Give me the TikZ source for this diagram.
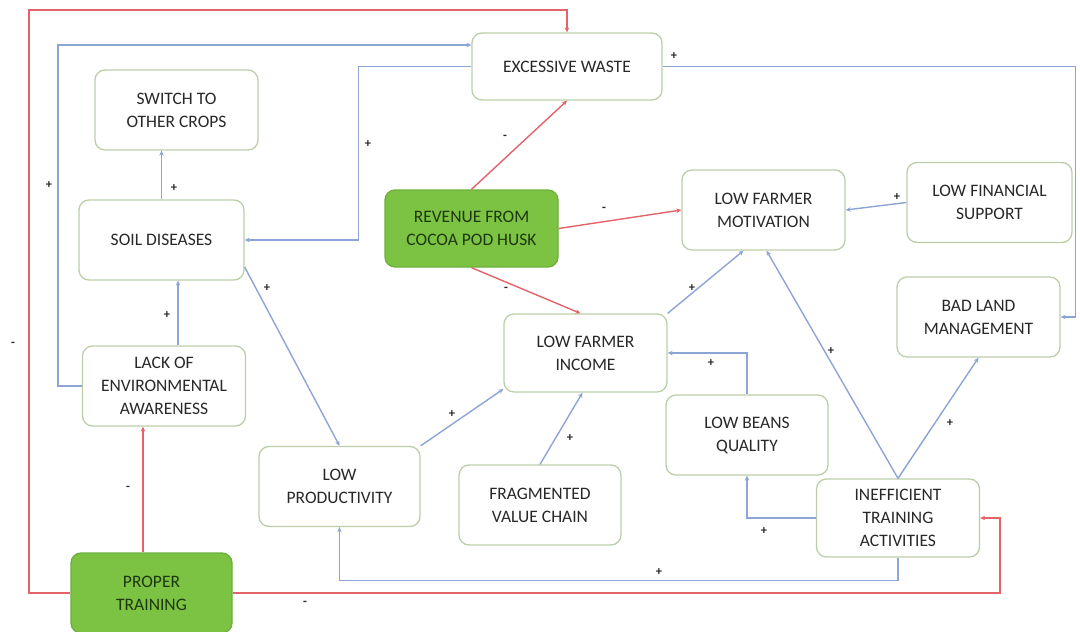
\documentclass[tikz,border=0pt]{standalone}
\usepackage{fontspec}
\setmainfont{Carlito}
\usetikzlibrary{arrows.meta}
\definecolor{boxline}{RGB}{188,206,168}
\definecolor{leaf}{RGB}{124,194,67}
\definecolor{leafline}{RGB}{108,176,58}
\definecolor{redline}{RGB}{228,98,106}
\definecolor{blueline}{RGB}{140,164,214}
\definecolor{ink}{RGB}{40,40,40}
\begin{document}
\begin{tikzpicture}[x=1pt, y=-1pt,
        box/.style = {rectangle, rounded corners=10pt, draw=boxline, line width=1.3pt,
                      fill=white, minimum width=163pt, minimum height=80pt, align=center,
                      text=ink, font=\fontsize{17.5}{23}\selectfont},
   greenbox/.style = {box, fill=leaf, draw=leafline, text={rgb,255:red,30;green,56;blue,14}},
        inc/.style = {draw=blueline, line width=1.4pt, -{Stealth[length=5pt,width=4.5pt]}},
        dec/.style = {draw=redline, line width=1.4pt, -{Stealth[length=5pt,width=4.5pt]}},
       sign/.style = {inner sep=0pt, text=black!85, font=\fontsize{12.5}{12.5}\selectfont\bfseries}
                    ]
\useasboundingbox (0,0) rectangle (1080,632);
\node (waste) [box, minimum width=190pt, minimum height=67pt] at (567,66.5) {EXCESSIVE WASTE};
\node (switch) [box] at (176.5,110) {SWITCH TO\\OTHER CROPS};
\node (soil) [box, minimum width=165pt] at (161.5,240) {SOIL DISEASES};
\node (revenue) [greenbox, minimum width=173pt, minimum height=77pt] at (471.5,228.5) {REVENUE FROM\\COCOA POD HUSK};
\node (motivation) [box] at (763.5,210) {LOW FARMER\\MOTIVATION};
\node (finsupport) [box, minimum width=165pt] at (989.5,202.5) {LOW FINANCIAL\\SUPPORT};
\node (badland) [box] at (978.5,317) {BAD LAND\\MANAGEMENT};
\node (income) [box, minimum height=78pt] at (585.5,353) {LOW FARMER\\INCOME};
\node (awareness) [box] at (164,386) {LACK OF\\ENVIRONMENTAL\\AWARENESS};
\node (productivity) [box, minimum width=161pt] at (339.5,486.5) {LOW\\PRODUCTIVITY};
\node (valuechain) [box, minimum width=162pt] at (540,505) {FRAGMENTED\\VALUE CHAIN};
\node (beans) [box, minimum width=162pt] at (747,435) {LOW BEANS\\QUALITY};
\node (inefficient) [box, minimum height=78pt] at (898,518) {INEFFICIENT\\TRAINING\\ACTIVITIES};
\node (training) [greenbox, minimum width=161pt] at (151.5,593) {PROPER\\TRAINING};
% negative links
\draw[dec] (training.west) -| (29,10) -| (waste.north) node[sign] at (13,344) {-};
\draw[dec] (training.east) -| ([xshift=20pt]inefficient.east) -- (inefficient.east) node[sign] at (305,603) {-};
\draw[dec] ([xshift=-8.5pt]training.north) -- ([xshift=-8.5pt]training.north |- awareness.south) node[sign] at (128,488) {-};
\draw[dec] (revenue.north) -- (waste.south) node[sign] at (505,137) {-};
\draw[dec] (revenue.east) -- (motivation.west) node[sign] at (604,209) {-};
\draw[dec] (revenue.south) -- ([xshift=-5pt]income.north) node[sign] at (506,289) {-};
% positive links
\draw[inc] (awareness.west) -- ++(-24,0) |- ([yshift=21.5pt]waste.west) node[sign] at (49,185) {+};
\draw[inc] ([xshift=14pt]awareness.north) -- ([xshift=14pt]awareness.north |- soil.south) node[sign] at (167,315) {+};
\draw[inc] (soil.north) -- (soil.north |- switch.south) node[sign] at (174,188) {+};
\draw[inc] (waste.west) -- ++(-113,0) |- (soil.east) node[sign] at (368,144) {+};
\draw[inc] ([yshift=-27pt]soil.east) -- (productivity.north) node[sign] at (267,288) {+};
\draw[inc] (productivity.north east) -- ([yshift=-36pt]income.west) node[sign] at (452,414) {+};
\draw[inc] (valuechain.north) -- ([xshift=-3pt]income.south) node[sign] at (570,438) {+};
\draw[inc] (beans.north) |- (income.east) node[sign] at (711,363) {+};
\draw[inc] (income.north east) -- ([xshift=-20pt]motivation.south) node[sign] at (692,288) {+};
\draw[inc] (inefficient.north) -- ([xshift=3pt]motivation.south) node[sign] at (831,351) {+};
\draw[inc] (inefficient.north) -- (badland.south) node[sign] at (950,423) {+};
\draw[inc] (inefficient.west) -| (beans.south) node[sign] at (764,531) {+};
\draw[inc] (inefficient.south) -- ++(0,23) -| (productivity.south) node[sign] at (659,572) {+};
\draw[inc] (finsupport.west) -- (motivation.east) node[sign] at (897,197) {+};
\draw[inc] (waste.east) -- ++(413,0) |- (badland.east) node[sign] at (674,56) {+};
\end{tikzpicture}
\end{document}
